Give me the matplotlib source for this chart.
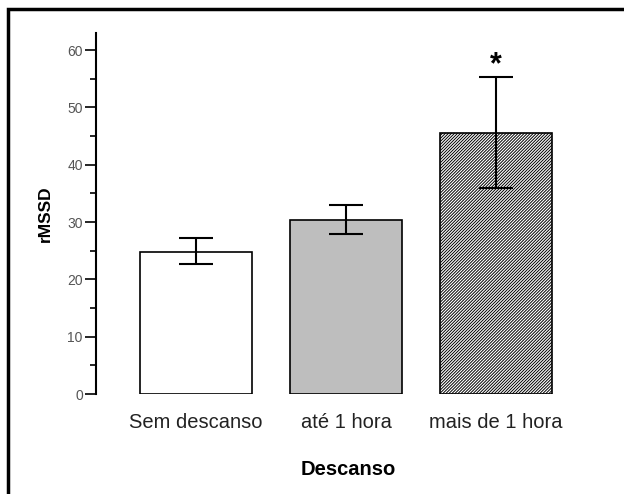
import matplotlib
matplotlib.use('Agg')
import matplotlib.pyplot as plt
from matplotlib.patches import Rectangle

plt.rcParams['font.family'] = ['Liberation Sans', 'DejaVu Sans']
plt.rcParams['hatch.linewidth'] = 0.7

# data
categories = ['Sem descanso', 'até 1 hora', 'mais de 1 hora']
means = [24.8, 30.3, 45.6]
err_low = [22.6, 27.9, 36.0]
err_high = [27.2, 33.0, 55.3]
face_colors = ['white', '#bebebe', 'white']
hatches = ['', '', '/' * 11]

fig = plt.figure(figsize=(6.24, 4.94), dpi=100)
ax = fig.add_axes([96 / 624, 1 - 394 / 494, (600 - 96) / 624, (394 - 33) / 494])

x = range(len(categories))
for i in x:
    ax.bar(i, means[i], width=0.75, color=face_colors[i], edgecolor='black',
           linewidth=1.2, hatch=hatches[i], zorder=2)
    lo = means[i] - err_low[i]
    hi = err_high[i] - means[i]
    ax.errorbar(i, means[i], yerr=[[lo], [hi]], fmt='none', ecolor='black',
                elinewidth=1.5, capsize=12.5, capthick=1.5, zorder=3)

# significance mark
ax.text(2, err_high[2] - 0.5, '*', ha='center', va='bottom', fontsize=22,
        fontweight='bold')

ax.set_xlim(-0.667, 2.693)
ax.set_ylim(0, 63)
ax.set_yticks(range(0, 61, 10))
ax.set_yticks(range(5, 61, 10), minor=True)
ax.tick_params(axis='y', which='major', length=8, width=1.2, labelsize=10,
               labelcolor='#555555', pad=1.5)
ax.tick_params(axis='y', which='minor', length=4, width=1.2)
ax.set_xticks(list(x))
ax.set_xticklabels(categories, fontsize=14.5, color='#222222')
ax.tick_params(axis='x', length=0, pad=14)

for s in ['top', 'right', 'bottom']:
    ax.spines[s].set_visible(False)
ax.spines['left'].set_linewidth(1.5)

ax.set_ylabel('rMSSD', fontsize=12.5, fontweight='bold')
ax.yaxis.set_label_coords(-0.085, 0.5)
ax.set_xlabel('Descanso', fontsize=14.5, fontweight='bold', labelpad=20)

# outer frame
fig.patches.append(Rectangle((8 / 624, -0.05), 1.05, 1 - 9 / 494 + 0.05,
                             transform=fig.transFigure, fill=False,
                             edgecolor='black', linewidth=2.5))

fig.savefig('out.png', dpi=100)
